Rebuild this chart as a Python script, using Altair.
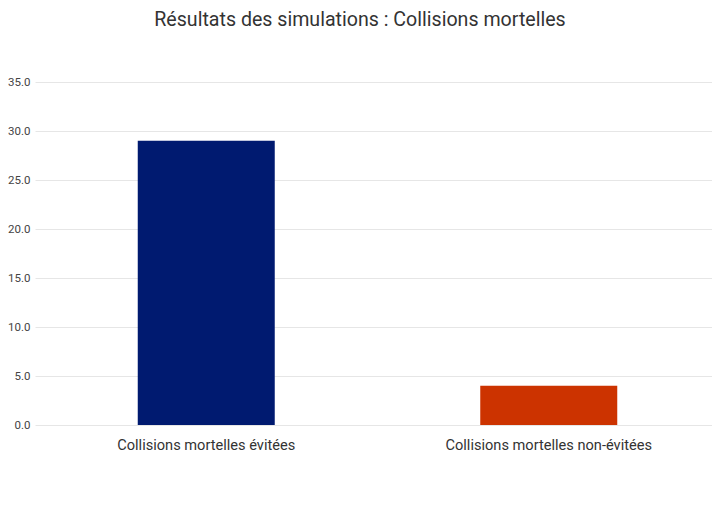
import altair as alt
import pandas as pd

categories = ["Collisions mortelles évitées", "Collisions mortelles non-évitées"]
values = [29.0, 4.0]
colors = ["#001A70", "#CC3300"]
y_ticks = [0, 5, 10, 15, 20, 25, 30, 35]

df = pd.DataFrame({"cat": categories, "val": values})

chart = alt.Chart(df).mark_bar().encode(
    x=alt.X("cat:N", sort=categories, title=None,
            scale=alt.Scale(paddingInner=0.6, paddingOuter=0.3, range=[0, 685]),
            axis=alt.Axis(labelAngle=0, labelFontSize=14.6, labelColor="#333333",
                          labelPadding=12, domain=False, ticks=False, grid=False,
                          labelFont="Roboto", labelLimit=0)),
    y=alt.Y("val:Q", title=None,
            scale=alt.Scale(domain=[0, 35], nice=False),
            axis=alt.Axis(values=y_ticks, format=".1f", labelFontSize=11.5,
                          labelColor="#444444", domain=False, ticks=False,
                          gridColor="#E6E6E6", labelPadding=5, labelFont="Roboto")),
    color=alt.Color("cat:N", scale=alt.Scale(domain=categories, range=colors), legend=None),
).properties(
    width=677, height=343,
    padding={"left": 27, "top": 74, "right": 0, "bottom": 50},
    autosize=alt.AutoSizeParams(type="none"),
    title=alt.TitleParams("Résultats des simulations : Collisions mortelles",
                          fontSize=19.6, font="Roboto", fontWeight="normal", color="#333333",
                          anchor="middle", dx=-13.5, offset=30, baseline="alphabetic"),
).configure_view(stroke=None)

chart.save("out.html", embed_options={"renderer": "svg", "actions": False})
